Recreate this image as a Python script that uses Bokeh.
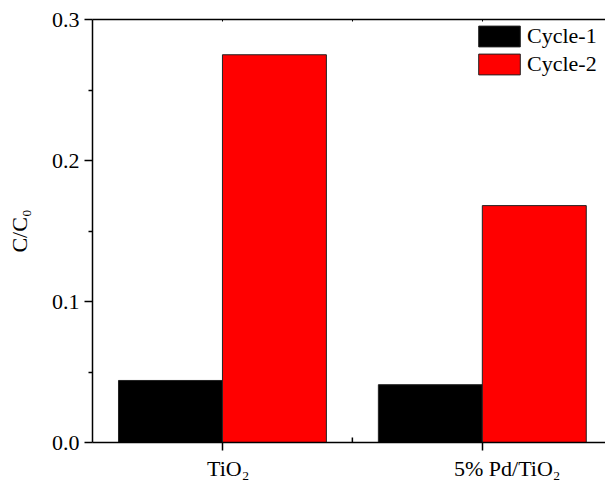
import math
from bokeh.plotting import figure
from bokeh.models import (ColumnDataSource, FixedTicker, LinearAxis, Range1d,
                          NumeralTickFormatter, Legend, LegendItem)
from bokeh.embed import file_html
from bokeh.resources import INLINE

# Catalysts and the C/C0 ratio after each photocatalysis cycle
catalysts = ["TiO\u2082", "5% Pd/TiO\u2082"]
cycle_1 = [0.044, 0.041]
cycle_2 = [0.275, 0.168]
series_names = ["Cycle-1", "Cycle-2"]
series_colors = ["#000000", "#ff0000"]
y_ticks = [0.0, 0.1, 0.2, 0.3]

FONT = "Liberation Serif"
bar_w = 0.4
positions = list(range(1, len(catalysts) + 1))
# category names sit a little to the right of their tick marks
label_nudge = [0.022, 0.096]

p = figure(width=605, height=487, output_backend="svg", toolbar_location=None,
           x_range=Range1d(0.5, 2.474), y_range=Range1d(0, 0.3),
           min_border_left=92, min_border_top=19, min_border_bottom=45,
           min_border_right=0, x_axis_location="below")
p.outline_line_color = None
p.grid.visible = False
p.background_fill_color = "white"
p.border_fill_color = "white"

src1 = ColumnDataSource(dict(x=[v - bar_w / 2 for v in positions], top=cycle_1))
src2 = ColumnDataSource(dict(x=[v + bar_w / 2 for v in positions], top=cycle_2))
r1 = p.vbar(x="x", top="top", bottom=0, width=bar_w, source=src1,
            fill_color=series_colors[0], line_color="#222222", line_width=1)
r2 = p.vbar(x="x", top="top", bottom=0, width=bar_w, source=src2,
            fill_color=series_colors[1], line_color="#222222", line_width=1)

# inward separator tick between the two groups
mid = sum(positions) / len(positions)
p.ray(x=[mid], y=[0], length=5, length_units="screen", angle=math.pi / 2,
      line_color="black", line_width=1.5)

# x axis: outward tick marks at the groups (minor ticks), names as labels
label_pos = [pos + s for pos, s in zip(positions, label_nudge)]
xa = p.xaxis[0]
xa.ticker = FixedTicker(ticks=label_pos, minor_ticks=positions)
xa.major_label_overrides = {lp: name for lp, name in zip(label_pos, catalysts)}
xa.major_tick_out = 0
xa.major_tick_in = 0
xa.minor_tick_out = 8
xa.minor_tick_in = 0
xa.major_label_standoff = 5

ya = p.yaxis[0]
ya.ticker = FixedTicker(ticks=y_ticks, minor_ticks=[0.05, 0.15, 0.25])
ya.formatter = NumeralTickFormatter(format="0.0")
ya.major_tick_out = 8
ya.major_tick_in = 0
ya.minor_tick_out = 4
ya.minor_tick_in = 0
ya.major_label_standoff = 5
ya.axis_label = "C/C\u2080"
ya.axis_label_standoff = 17

for ax in (xa, ya):
    ax.axis_line_width = 1.5
    ax.axis_line_color = "black"
    ax.major_tick_line_width = 1.5
    ax.minor_tick_line_width = 1.5
    ax.major_tick_line_color = "black"
    ax.minor_tick_line_color = "black"
    ax.major_label_text_font = FONT
    ax.major_label_text_font_size = "22px"
    ax.major_label_text_color = "black"
    ax.axis_label_text_font = FONT
    ax.axis_label_text_font_size = "22px"
    ax.axis_label_text_font_style = "normal"
    ax.axis_label_text_color = "black"

# top frame line with small inward ticks, no labels
top = LinearAxis(ticker=FixedTicker(ticks=[], minor_ticks=[1, 1.5, 2]),
                 axis_line_width=1.5, minor_tick_in=2, minor_tick_out=0,
                 minor_tick_line_width=1)
p.add_layout(top, "above")

legend = Legend(items=[LegendItem(label=series_names[0], renderers=[r1]),
                       LegendItem(label=series_names[1], renderers=[r2])],
                location=(381, 365))
legend.background_fill_alpha = 0
legend.border_line_color = None
legend.label_text_font = FONT
legend.label_text_font_size = "22px"
legend.label_text_color = "black"
legend.glyph_width = 52
legend.glyph_height = 26
legend.spacing = 2
legend.padding = 4
legend.margin = 0
legend.label_standoff = 2
p.add_layout(legend)

open("out.html", "w").write(file_html(p, INLINE))
